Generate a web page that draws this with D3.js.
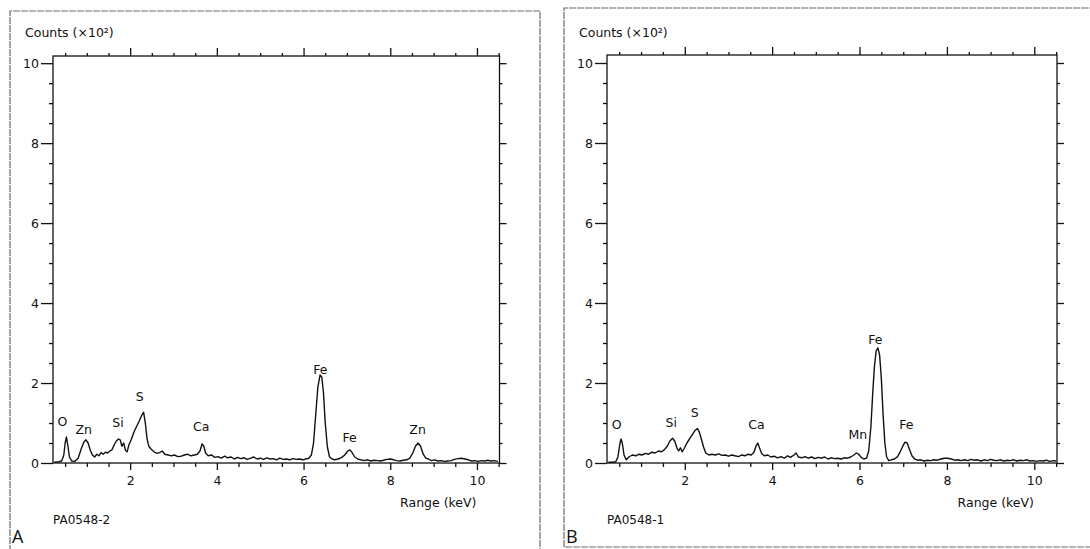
<!DOCTYPE html>
<html>
<head>
<meta charset="utf-8">
<script src="https://cdn.jsdelivr.net/npm/d3@7"></script>
<style>
  body { margin: 0; background: #fff; }
  svg text { font-family: "DejaVu Sans", sans-serif; fill: #111; }
</style>
</head>
<body>
<svg id="chart" width="1090" height="549"></svg>
<script>
////////////////////////////////////////////////////////////////////////
// Data (counts in units of 10^2)

const xMajorTicks = [2, 4, 6, 8, 10];
const yMajorTicks = [0, 2, 4, 6, 8, 10];

// Spectrum A (PA0548-2)
const energyA = [0.25, 0.35, 0.42, 0.47, 0.50, 0.53, 0.56, 0.60, 0.65, 0.72,
  0.80, 0.87, 0.93, 0.98, 1.03, 1.08, 1.13, 1.18, 1.23, 1.28, 1.33, 1.38,
  1.43, 1.48, 1.53, 1.58, 1.63, 1.68, 1.73, 1.77, 1.81, 1.85, 1.89, 1.93,
  1.97, 2.03, 2.09, 2.15, 2.21, 2.27, 2.31, 2.35, 2.39, 2.43, 2.48, 2.55,
  2.62, 2.68, 2.74, 2.80, 2.88, 2.95, 3.02, 3.10, 3.18, 3.25, 3.32, 3.40,
  3.48, 3.55, 3.61, 3.66, 3.70, 3.74, 3.80, 3.88, 3.95, 4.03, 4.10, 4.18,
  4.25, 4.33, 4.40, 4.48, 4.55, 4.63, 4.70, 4.78, 4.85, 4.93, 5.00, 5.08,
  5.15, 5.23, 5.30, 5.38, 5.45, 5.53, 5.60, 5.68, 5.75, 5.83, 5.90, 5.98,
  6.05, 6.12, 6.18, 6.23, 6.28, 6.33, 6.38, 6.42, 6.46, 6.50, 6.55, 6.60,
  6.66, 6.72, 6.80, 6.88, 6.95, 7.02, 7.07, 7.12, 7.18, 7.25, 7.32, 7.40,
  7.48, 7.55, 7.62, 7.70, 7.78, 7.85, 7.92, 8.00, 8.08, 8.15, 8.22, 8.30,
  8.38, 8.45, 8.52, 8.58, 8.64, 8.70, 8.76, 8.82, 8.88, 8.95, 9.02, 9.10,
  9.18, 9.25, 9.32, 9.40, 9.48, 9.56, 9.64, 9.72, 9.80, 9.88, 9.95, 10.03,
  10.10, 10.18, 10.25, 10.32, 10.40, 10.48];
const countsA = [0.02, 0.03, 0.05, 0.20, 0.50, 0.65, 0.45, 0.15, 0.05, 0.04,
  0.12, 0.35, 0.52, 0.58, 0.50, 0.32, 0.20, 0.15, 0.22, 0.18, 0.26, 0.22,
  0.27, 0.25, 0.30, 0.33, 0.45, 0.55, 0.60, 0.58, 0.42, 0.50, 0.32, 0.28,
  0.45, 0.60, 0.78, 0.92, 1.05, 1.20, 1.27, 1.00, 0.60, 0.42, 0.35, 0.28,
  0.24, 0.26, 0.30, 0.22, 0.20, 0.18, 0.20, 0.16, 0.17, 0.20, 0.22, 0.18,
  0.20, 0.22, 0.30, 0.48, 0.42, 0.25, 0.18, 0.20, 0.14, 0.16, 0.12, 0.17,
  0.13, 0.15, 0.10, 0.14, 0.11, 0.13, 0.09, 0.12, 0.15, 0.10, 0.12, 0.09,
  0.13, 0.10, 0.11, 0.08, 0.12, 0.09, 0.10, 0.08, 0.11, 0.09, 0.10, 0.08,
  0.10, 0.12, 0.20, 0.50, 1.20, 1.90, 2.20, 2.15, 1.75, 1.00, 0.40, 0.15,
  0.10, 0.08, 0.10, 0.14, 0.20, 0.30, 0.33, 0.26, 0.15, 0.10, 0.08, 0.06,
  0.08, 0.05, 0.07, 0.06, 0.05, 0.07, 0.09, 0.10, 0.08, 0.06, 0.05, 0.07,
  0.08, 0.12, 0.25, 0.42, 0.50, 0.42, 0.22, 0.12, 0.10, 0.06, 0.08, 0.05,
  0.06, 0.04, 0.05, 0.06, 0.09, 0.11, 0.12, 0.10, 0.08, 0.05, 0.06, 0.04,
  0.06, 0.05, 0.07, 0.05, 0.06, 0.04];

const peakNamesA = ["O", "Zn", "Si", "S", "Ca", "Fe", "Fe", "Zn"];
const peakEnergyA = [0.44, 0.93, 1.72, 2.22, 3.64, 6.39, 7.06, 8.63];
const peakLabelYA = [1.03, 0.83, 1.00, 1.66, 0.91, 2.33, 0.63, 0.83];

// Spectrum B (PA0548-1)
const energyB = [0.25, 0.35, 0.42, 0.47, 0.51, 0.54, 0.57, 0.61, 0.66, 0.72,
  0.80, 0.88, 0.95, 1.02, 1.10, 1.17, 1.25, 1.32, 1.40, 1.47, 1.54, 1.60,
  1.66, 1.72, 1.77, 1.82, 1.86, 1.90, 1.94, 1.98, 2.05, 2.12, 2.18, 2.24,
  2.29, 2.33, 2.38, 2.43, 2.48, 2.55, 2.62, 2.70, 2.78, 2.85, 2.93, 3.00,
  3.08, 3.15, 3.23, 3.30, 3.38, 3.45, 3.52, 3.58, 3.63, 3.67, 3.71, 3.76,
  3.82, 3.90, 3.97, 4.05, 4.12, 4.20, 4.28, 4.35, 4.42, 4.50, 4.55, 4.60,
  4.68, 4.75, 4.83, 4.90, 4.98, 5.05, 5.13, 5.20, 5.28, 5.35, 5.43, 5.50,
  5.58, 5.65, 5.72, 5.80, 5.87, 5.93, 5.98, 6.04, 6.10, 6.16, 6.21, 6.26,
  6.30, 6.34, 6.38, 6.42, 6.46, 6.50, 6.54, 6.58, 6.62, 6.67, 6.73, 6.80,
  6.87, 6.93, 6.99, 7.04, 7.09, 7.14, 7.20, 7.26, 7.33, 7.40, 7.48, 7.55,
  7.63, 7.70, 7.78, 7.86, 7.94, 8.02, 8.10, 8.18, 8.25, 8.33, 8.40, 8.48,
  8.55, 8.63, 8.70, 8.78, 8.85, 8.93, 9.00, 9.08, 9.15, 9.23, 9.30, 9.38,
  9.45, 9.53, 9.60, 9.68, 9.75, 9.83, 9.90, 9.98, 10.05, 10.13, 10.20,
  10.28, 10.35, 10.43, 10.50];
const countsB = [0.02, 0.02, 0.03, 0.15, 0.45, 0.60, 0.50, 0.20, 0.08, 0.15,
  0.20, 0.18, 0.22, 0.20, 0.24, 0.22, 0.27, 0.25, 0.30, 0.28, 0.34, 0.42,
  0.55, 0.62, 0.55, 0.38, 0.30, 0.38, 0.28, 0.35, 0.50, 0.62, 0.72, 0.82,
  0.86, 0.78, 0.60, 0.40, 0.25, 0.20, 0.22, 0.20, 0.23, 0.19, 0.20, 0.17,
  0.20, 0.18, 0.16, 0.20, 0.18, 0.22, 0.20, 0.26, 0.42, 0.50, 0.38, 0.24,
  0.18, 0.20, 0.15, 0.17, 0.13, 0.16, 0.12, 0.18, 0.14, 0.20, 0.25, 0.15,
  0.13, 0.16, 0.12, 0.15, 0.11, 0.14, 0.12, 0.15, 0.10, 0.13, 0.11, 0.12,
  0.10, 0.13, 0.12, 0.15, 0.20, 0.25, 0.22, 0.14, 0.10, 0.12, 0.30, 0.90,
  1.70, 2.40, 2.80, 2.88, 2.70, 2.10, 1.20, 0.50, 0.15, 0.06, 0.08, 0.10,
  0.16, 0.28, 0.42, 0.52, 0.50, 0.35, 0.18, 0.10, 0.07, 0.08, 0.05, 0.07,
  0.06, 0.08, 0.07, 0.10, 0.12, 0.12, 0.10, 0.07, 0.08, 0.06, 0.08, 0.06,
  0.09, 0.07, 0.08, 0.05, 0.08, 0.06, 0.09, 0.07, 0.06, 0.08, 0.05, 0.07,
  0.06, 0.08, 0.05, 0.07, 0.06, 0.08, 0.05, 0.06, 0.04, 0.06, 0.05, 0.07,
  0.04, 0.06, 0.05];

const peakNamesB = ["O", "Si", "S", "Ca", "Mn", "Fe", "Fe"];
const peakEnergyB = [0.44, 1.69, 2.23, 3.64, 5.96, 6.36, 7.07];
const peakLabelYB = [0.95, 1.00, 1.25, 0.95, 0.70, 3.08, 0.95];


////////////////////////////////////////////////////////////////////////
// One spectrum panel

function makeSpectrum(svg, energy, counts, names, nameX, nameY, opt) {
  const xScale = d3.scaleLinear()
    .domain([0.22, 10.52])
    .range([opt.left, opt.right]);
  const yScale = d3.scaleLinear()
    .domain([0, opt.yMax])
    .range([opt.bottom, opt.top]);

  const xMinor = d3.range(0.5, 10.51, 0.5).filter(v => v % 2 !== 0);
  const yMinor = d3.range(0.5, 10.01, 0.5).filter(v => v % 2 !== 0);

  // outer frame of the printout
  svg.append("path")
    .attr("d", opt.frame)
    .attr("fill", "none")
    .attr("stroke", "#6a6a6a")
    .attr("stroke-width", 1.2)
    .attr("stroke-dasharray", "7,1");

  const g = svg.append("g");

  // axes: major and minor ticks on all four sides
  function addAxis(axis, transform) {
    const a = g.append("g").attr("transform", transform).call(axis);
    a.select(".domain").remove();
    a.selectAll("line").attr("stroke", "#111").attr("stroke-width", 1.3);
    a.selectAll("text")
      .style("font-family", "DejaVu Sans, sans-serif")
      .style("font-size", "12.5px")
      .attr("fill", "#111");
    return a;
  }

  addAxis(d3.axisBottom(xScale).tickValues(xMajorTicks).tickSize(7)
    .tickPadding(6).tickFormat(d3.format("d")),
    `translate(0,${opt.bottom})`);
  addAxis(d3.axisBottom(xScale).tickValues(xMinor).tickSize(4).tickFormat(""),
    `translate(0,${opt.bottom})`);
  addAxis(d3.axisTop(xScale).tickValues(xMajorTicks).tickSize(8).tickFormat(""),
    `translate(0,${opt.top})`);
  addAxis(d3.axisTop(xScale).tickValues(xMinor).tickSize(3).tickFormat(""),
    `translate(0,${opt.top})`);
  addAxis(d3.axisLeft(yScale).tickValues(yMajorTicks).tickSize(12)
    .tickPadding(2).tickFormat(d3.format("d")),
    `translate(${opt.left},0)`);
  addAxis(d3.axisLeft(yScale).tickValues(yMinor).tickSize(4).tickFormat(""),
    `translate(${opt.left},0)`);
  addAxis(d3.axisRight(yScale).tickValues(yMajorTicks).tickSize(7).tickFormat(""),
    `translate(${opt.right},0)`);
  addAxis(d3.axisRight(yScale).tickValues(yMinor).tickSize(3).tickFormat(""),
    `translate(${opt.right},0)`);

  // plot box
  g.append("rect")
    .attr("x", opt.left)
    .attr("y", opt.top)
    .attr("width", opt.right - opt.left)
    .attr("height", opt.bottom - opt.top)
    .attr("fill", "none")
    .attr("stroke", "#111")
    .attr("stroke-width", 1.3);

  // spectrum trace
  const line = d3.line()
    .x((d, i) => xScale(energy[i]))
    .y(d => yScale(d));

  g.append("path")
    .datum(counts)
    .attr("d", line)
    .attr("fill", "none")
    .attr("stroke", "#111")
    .attr("stroke-width", 1.4)
    .attr("stroke-linejoin", "round");

  // element labels over the peaks
  g.selectAll(".peak")
    .data(names)
    .enter().append("text")
    .attr("class", "peak")
    .attr("x", (d, i) => xScale(nameX[i]))
    .attr("y", (d, i) => yScale(nameY[i]))
    .attr("dy", "0.35em")
    .attr("text-anchor", "middle")
    .style("font-size", "12.5px")
    .text(d => d);

  // titles
  svg.append("text")
    .attr("x", opt.left - 28)
    .attr("y", 37)
    .style("font-size", "12.5px")
    .text("Counts (\u00d710\u00b2)");

  svg.append("text")
    .attr("x", opt.right - 23)
    .attr("y", 507)
    .attr("text-anchor", "end")
    .style("font-size", "12.5px")
    .text("Range (keV)");

  svg.append("text")
    .attr("x", opt.left)
    .attr("y", 524)
    .style("font-size", "12px")
    .text(opt.id);

  svg.append("text")
    .attr("x", opt.frameX + 2)
    .attr("y", 543)
    .style("font-family", "Open Sans, sans-serif")
    .style("font-size", "18px")
    .text(opt.letter);

  return { xScale, yScale };
}


////////////////////////////////////////////////////////////////////////
// Setup plots

const svg = d3.select("#chart");

let plotA = makeSpectrum(svg, energyA, countsA, peakNamesA, peakEnergyA, peakLabelYA, {
  left: 53, right: 499.5, top: 56, bottom: 463, yMax: 10.18,
  frame: "M10,560 L10,11 L540,11 L540,560", frameX: 10,
  id: "PA0548-2", letter: "A"
});

let plotB = makeSpectrum(svg, energyB, countsB, peakNamesB, peakEnergyB, peakLabelYB, {
  left: 607, right: 1057, top: 55, bottom: 463, yMax: 10.2,
  frame: "M1100,547 L564,547 L564,8 L1100,8", frameX: 564,
  id: "PA0548-1", letter: "B"
});
</script>
</body>
</html>
